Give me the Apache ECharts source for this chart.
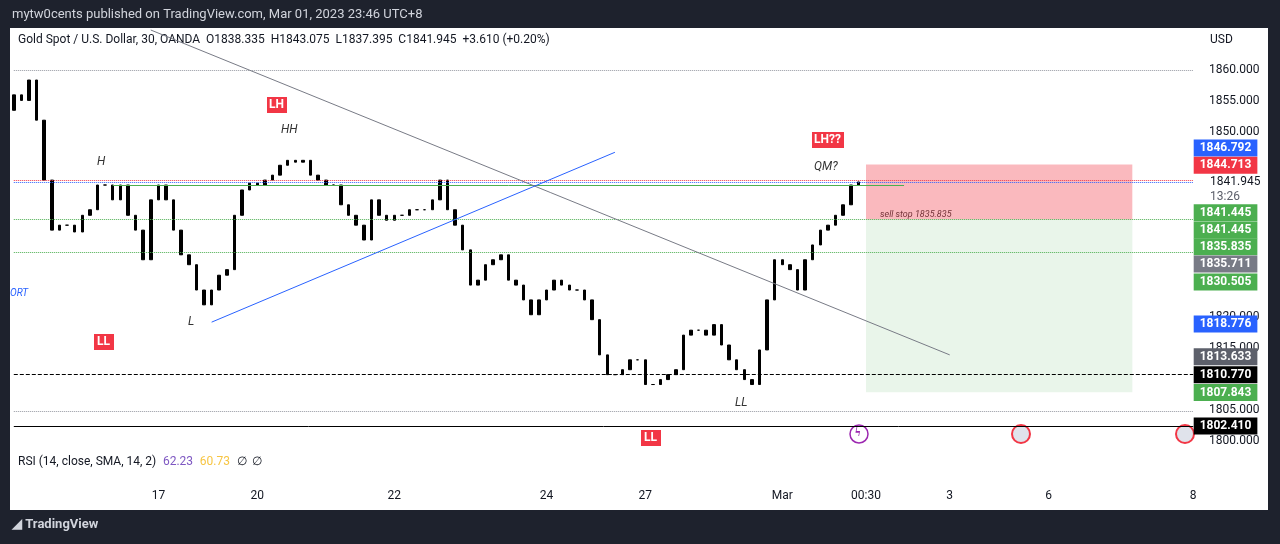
<!DOCTYPE html>
<html lang="en">
<head>
<meta charset="UTF-8">
<title>XAUUSD 30</title>
<style>
  * { padding: 0; margin: 0; box-sizing: border-box; }
  html, body { width: 100%; height: 100%; overflow: hidden; background: #1e222d; }
  #box { width: 1280px; height: 544px; }
</style>
</head>
<body>
<div id="box"></div>
<script src="https://cdn.jsdelivr.net/npm/echarts@6/dist/echarts.min.js"></script>
<script>
// closes of the 30m bars
var closes = [
  1856.0,1855.1,1858.4,1851.9,1842.2,1834.1,1834.9,1834.9,1833.8,1836.5,
  1837.4,1841.4,1841.4,1839.0,1841.4,1836.5,1834.1,1829.3,1839.0,1841.4,
  1839.0,1834.1,1830.1,1828.5,1824.4,1822.0,1824.4,1826.8,1827.7,1836.5,
  1840.6,1841.7,1841.4,1842.2,1843.0,1844.6,1845.4,1845.1,1845.4,1843.0,
  1842.2,1841.4,1841.4,1838.2,1836.5,1834.9,1832.5,1839.0,1836.5,1835.7,
  1836.5,1836.5,1837.4,1837.4,1837.4,1839.0,1842.2,1837.4,1834.9,1830.9,
  1825.2,1826.0,1828.5,1829.3,1830.1,1826.0,1825.2,1822.8,1820.4,1822.8,
  1824.4,1826.0,1825.2,1824.4,1824.4,1822.8,1819.6,1813.9,1810.7,1810.7,
  1811.5,1813.1,1813.1,1809.1,1809.1,1809.9,1810.7,1811.5,1817.1,1817.9,
  1817.9,1817.1,1818.8,1815.5,1813.1,1811.5,1809.9,1809.1,1814.7,1822.8,
  1829.3,1828.5,1827.7,1824.4,1829.3,1831.7,1834.1,1834.9,1836.5,1838.2,
  1841.4,1841.9
];
var firstOpen = 1853.5;
var totalSlots = 156;
var dateLabels = { 19: '17', 32: '20', 50: '22', 70: '24', 83: '27', 101: 'Mar', 112: '00:30', 123: '3', 136: '6', 155: '8' };
var priceTicks = [1800, 1805, 1815, 1820, 1850, 1855, 1860];

// price-scale badges: text, display price, background
var badgeText  = ['1846.792','1844.713','1841.445','1841.445','1835.835','1835.711','1830.505','1818.776','1813.633','1810.770','1807.843','1802.410'];
var badgeAt    = [1847.4, 1844.6, 1836.9, 1834.1, 1831.4, 1828.6, 1825.7, 1818.9, 1813.6, 1810.7, 1807.8, 1802.4];
var badgeColor = ['#2962ff','#f23645','#4caf50','#4caf50','#4caf50','#787b86','#4caf50','#2962ff','#5d606b','#000000','#4caf50','#000000'];

var trendGrey = [[18.2, 1866.5], [122.5, 1813.9]];
var trendBlue = [[25.7, 1819.2], [78.9, 1846.7]];
var shortZone = { from: 112.3, to: 146.5, entry: 1835.835, stop: 1844.713, target: 1807.843 };

var cats = [], candles = [];
for (var i = 0; i < totalSlots; i++) {
  cats.push('b' + i);
  if (i < closes.length) {
    var o = i === 0 ? firstOpen : closes[i - 1], c = closes[i];
    candles.push([o, c, Math.min(o, c), Math.max(o, c)]);
  } else {
    candles.push('-');
  }
}

var box = echarts.init(document.getElementById('box'));
var hl = function (y, color, type, from, to) {
  return [{ coord: [from, y], lineStyle: { color: color, type: type, width: 1 } }, { coord: [to, y] }];
};
var badgeData = badgeText.map(function (t, k) {
  return {
    value: [totalSlots - 1, badgeAt[k]],
    label: { show: true, position: 'right', distance: 0, offset: [6, 0], formatter: t, color: '#fff', backgroundColor: badgeColor[k],
      opacity: 1, padding: [3, 6, 2, 6], fontSize: 12, fontWeight: 'bold', fontFamily: 'Roboto' }
  };
});

var option = {
  backgroundColor: '#1e222d',
  animation: false,
  graphic: [
    { type: 'rect', shape: { x: 10, y: 28, width: 1258, height: 482 }, style: { fill: '#fff' }, z: -10 },
    { type: 'text', left: 12, top: 8, style: { text: 'mytw0cents published on TradingView.com, Mar 01, 2023 23:46 UTC+8', fill: '#d1d4dc', font: '13px Roboto' } },
    { type: 'text', left: 18, top: 34, style: { text: 'Gold Spot / U.S. Dollar, 30, OANDA  O1838.335  H1843.075  L1837.395  C1841.945  +3.610 (+0.20%)', fill: '#131722', font: '12px Roboto' } },
    { type: 'text', left: 1210, top: 34, style: { text: 'USD', fill: '#131722', font: '12px Roboto' } },
    { type: 'text', left: 1210, top: 176, style: { text: '1841.945', fill: '#131722', font: '12px Roboto' } },
    { type: 'text', left: 1210, top: 191, style: { text: '13:26', fill: '#5d606b', font: '12px Roboto' } },
    { type: 'text', left: 18, top: 456, style: { rich: { a: { fill: '#131722', font: '12px Roboto' }, p: { fill: '#7e57c2', font: '12px Roboto' }, y: { fill: '#f7c543', font: '12px Roboto' } }, text: '{a|RSI (14, close, SMA, 14, 2)}  {p|62.23}  {y|60.73}  {a|∅  ∅}' } },
    { type: 'text', left: 12, top: 518, style: { text: '◢ TradingView', fill: '#d1d4dc', font: 'bold 13px Roboto' } },
    { type: 'group', left: 267, top: 97, children: [
      { type: 'rect', shape: { width: 20, height: 16 }, style: { fill: '#f23645' } },
      { type: 'text', x: 2, y: 2, style: { text: 'LH', fill: '#fff', font: 'bold 12px Roboto' } }] },
    { type: 'group', left: 94, top: 334, children: [
      { type: 'rect', shape: { width: 20, height: 16 }, style: { fill: '#f23645' } },
      { type: 'text', x: 3, y: 2, style: { text: 'LL', fill: '#fff', font: 'bold 12px Roboto' } }] },
    { type: 'group', left: 641, top: 430, children: [
      { type: 'rect', shape: { width: 20, height: 16 }, style: { fill: '#f23645' } },
      { type: 'text', x: 3, y: 2, style: { text: 'LL', fill: '#fff', font: 'bold 12px Roboto' } }] },
    { type: 'group', left: 812, top: 132, children: [
      { type: 'rect', shape: { width: 32, height: 16 }, style: { fill: '#f23645' } },
      { type: 'text', x: 2, y: 2, style: { text: 'LH??', fill: '#fff', font: 'bold 12px Roboto' } }] },
    { type: 'text', left: 281, top: 124, style: { text: 'HH', fill: '#333', font: 'italic 12px Roboto' } },
    { type: 'text', left: 97, top: 156, style: { text: 'H', fill: '#333', font: 'italic 12px Roboto' } },
    { type: 'text', left: 188, top: 316, style: { text: 'L', fill: '#333', font: 'italic 12px Roboto' } },
    { type: 'text', left: 735, top: 397, style: { text: 'LL', fill: '#333', font: 'italic 12px Roboto' } },
    { type: 'text', left: 814, top: 161, style: { text: 'QM?', fill: '#333', font: 'italic 12px Roboto' } },
    { type: 'text', left: 880, top: 210, style: { text: 'sell stop 1835.835', fill: '#333', font: 'italic 9px Roboto' } },
    { type: 'text', left: 10, top: 288, style: { text: 'ORT', fill: '#2962ff', font: 'italic 10px Roboto' } },
    { type: 'circle', shape: { cx: 859, cy: 434, r: 9 }, style: { fill: '#fff', stroke: '#9c27b0', lineWidth: 1.5 } },
    { type: 'text', left: 855, top: 427, style: { text: 'ϟ', fill: '#9c27b0', font: 'bold 12px Roboto' } },
    { type: 'circle', shape: { cx: 1021, cy: 434, r: 9 }, style: { fill: '#e0e3eb', stroke: '#f23645', lineWidth: 2 } },
    { type: 'circle', shape: { cx: 1185, cy: 434, r: 9 }, style: { fill: '#e0e3eb', stroke: '#f23645', lineWidth: 2 } }
  ],
  grid: [
    { left: 10, right: 83, top: 30, height: 420 },
    { left: 10, right: 83, top: 452, height: 30 }
  ],
  xAxis: [
    { type: 'category', gridIndex: 0, data: cats, boundaryGap: true, axisLine: { show: false }, axisTick: { show: false }, axisLabel: { show: false } },
    { type: 'category', gridIndex: 1, data: cats, boundaryGap: true, axisLine: { show: false }, axisTick: { show: false },
      axisLabel: { interval: function (i) { return dateLabels[i] !== undefined; }, formatter: function (v, i) { return dateLabels[i] || ''; },
        color: '#131722', fontSize: 12, fontFamily: 'Roboto', margin: 8 } }
  ],
  yAxis: [
    { type: 'value', gridIndex: 0, position: 'right', min: 1798.5, max: 1866.5, interval: 0.5, splitLine: { show: false },
      axisLine: { show: false }, axisTick: { show: false },
      axisLabel: { color: '#131722', fontSize: 12, fontFamily: 'Roboto', margin: 12, hideOverlap: false,
        formatter: function (v) { return priceTicks.indexOf(Math.round(v * 2) / 2) >= 0 ? v.toFixed(3) : ''; } } },
    { type: 'value', gridIndex: 1, position: 'right', show: false }
  ],
  series: [
    {
      type: 'candlestick', xAxisIndex: 0, yAxisIndex: 0, data: candles, barMaxWidth: 3,
      itemStyle: { color: '#000', color0: '#000', borderColor: '#000', borderColor0: '#000' },
      markArea: { silent: true, data: [
        [{ coord: [shortZone.from, shortZone.stop], itemStyle: { color: 'rgba(242,54,69,0.35)' } }, { coord: [shortZone.to, shortZone.entry] }],
        [{ coord: [shortZone.from, shortZone.entry], itemStyle: { color: 'rgba(76,175,80,0.12)' } }, { coord: [shortZone.to, shortZone.target] }]
      ] },
      markLine: { silent: true, symbol: 'none', label: { show: false }, data: [
        hl(1860, '#9598a1', 'dotted', 0, 155),
        hl(1804.85, '#9598a1', 'dotted', 0, 155),
        hl(1842.1, '#f23645', 'dotted', 0, 155),
        hl(1841.8, '#2962ff', 'dotted', 0, 155),
        hl(1841.445, '#4caf50', 'solid', 12.8, 117),
        hl(1835.835, '#4caf50', 'dotted', 0, 155),
        hl(1830.505, '#4caf50', 'dotted', 0, 155),
        hl(1810.77, '#000', 'dashed', 0, 155),
        hl(1802.41, '#000', 'solid', 0, 155),
        [{ coord: trendGrey[0], lineStyle: { color: '#787b86', type: 'solid', width: 1 } }, { coord: trendGrey[1] }],
        [{ coord: trendBlue[0], lineStyle: { color: '#2962ff', type: 'solid', width: 1 } }, { coord: trendBlue[1] }]
      ] }
    },
    {
      type: 'scatter', xAxisIndex: 0, yAxisIndex: 0, symbolSize: 1, itemStyle: { color: 'rgba(0,0,0,0)', opacity: 1 }, silent: true,
      clip: false, labelLayout: { hideOverlap: false }, data: badgeData, z: 10
    }
  ]
};
box.setOption(option);
</script>
</body>
</html>
